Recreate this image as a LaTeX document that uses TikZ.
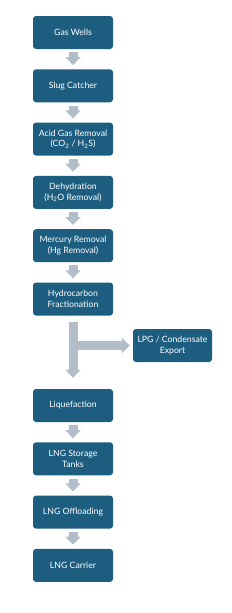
\documentclass[tikz,border=0pt]{standalone}
\usepackage{fontspec}
\setmainfont{Lato}
\usepackage{tikz}
\usetikzlibrary{positioning, arrows.meta, calc}
\usepackage{xcolor}
\definecolor{boxblue}{HTML}{1D5E80}
\definecolor{arrowgray}{HTML}{B2BDC9}

\begin{document}
\begin{tikzpicture}[
  x=1pt, y=-1pt,
  every node/.style={font=\fontsize{8.7}{10.4}\selectfont},
  stage/.style={fill=boxblue, text=white, rounded corners=3pt,
    minimum width=80pt, minimum height=33pt, inner sep=1pt, align=center},
  fatarrow/.style={draw=arrowgray, line width=9pt,
    -{Triangle[width=15pt, length=8pt]}}
]
\useasboundingbox (0,0) rectangle (231,613);

% main train
\node[stage] (wells)   at (73, 32.5)  {Gas Wells};
\node[stage] (slug)    at (73, 85.8)  {Slug Catcher};
\node[stage] (agr)     at (73, 139.1) {Acid Gas Removal\\(CO\textsubscript{2} / H\textsubscript{2}S)};
\node[stage] (dehy)    at (73, 192.4) {Dehydration\\(H\textsubscript{2}O Removal)};
\node[stage] (mercury) at (73, 245.7) {Mercury Removal\\(Hg Removal)};
\node[stage] (frac)    at (73, 299)   {Hydrocarbon\\Fractionation};
\node[stage] (liq)     at (73, 405.5) {Liquefaction};
\node[stage] (storage) at (73, 458.8) {LNG Storage\\Tanks};
\node[stage] (offload) at (73, 512.1) {LNG Offloading};
\node[stage] (carrier) at (73, 565.4) {LNG Carrier};

% side product
\node[stage, minimum width=79pt] (lpg) at (172.5, 345.5) {LPG / Condensate\\Export};

\def\flowarrow#1#2{%
  \draw[fatarrow, shorten <=3pt, shorten >=4pt] (#1.south) -- (#2.north);
}

\flowarrow{wells}{slug}
\flowarrow{slug}{agr}
\flowarrow{agr}{dehy}
\flowarrow{dehy}{mercury}
\flowarrow{mercury}{frac}
\flowarrow{liq}{storage}
\flowarrow{storage}{offload}
\flowarrow{offload}{carrier}

% branch
\coordinate (split) at (frac.south |- lpg.west);
\draw[fatarrow, shorten <=6pt, shorten >=11pt] (frac.south) -- (liq.north);
\draw[fatarrow, shorten >=3pt] (split) -- (lpg.west);
\end{tikzpicture}
\end{document}
